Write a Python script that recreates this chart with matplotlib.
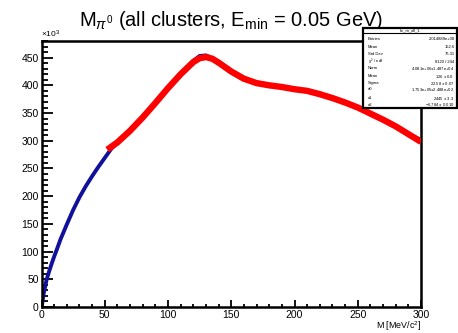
import matplotlib
matplotlib.use("Agg")
import matplotlib.pyplot as plt
from matplotlib.patches import Rectangle
from matplotlib.lines import Line2D
from matplotlib.ticker import MultipleLocator

plt.rcParams['font.family'] = ['Liberation Sans', 'DejaVu Sans']
plt.rcParams['mathtext.fontset'] = 'custom'
plt.rcParams['mathtext.rm'] = 'Liberation Sans'
plt.rcParams['mathtext.it'] = 'Liberation Sans:italic'

# histogram (blue), values in units of 1e3
hist_x = [0.5, 1.5, 3, 4, 6, 8, 10, 12, 15, 20, 25, 30, 35, 40, 45, 50, 55,
          60, 70, 80, 90, 100, 110, 120, 125, 130, 135, 140, 150, 160, 170,
          180, 190, 200, 210, 220, 230, 240, 250, 260, 270, 280, 290, 300]
hist_y = [5, 22, 38, 49, 64, 78, 91, 103, 122, 149, 175, 198, 218, 236, 253, 269, 285,
          298, 319, 343, 369, 396, 421, 444, 453, 454, 449, 440, 423, 410, 405,
          401, 397, 394, 390, 385, 377, 369, 361, 350, 339, 326, 313, 301]

# fit curve (red), values in units of 1e3
fit_x = [52, 60, 70, 80, 90, 100, 110, 120, 125, 130, 135, 140, 150, 160, 170,
         180, 190, 200, 210, 220, 230, 240, 250, 260, 270, 280, 290, 300]
fit_y = [284, 297, 318, 342, 368, 395, 420, 442, 449, 451, 448, 441, 425, 412, 404,
         400, 397, 393, 390, 384, 377, 369, 360, 349, 338, 326, 312, 298]

stats_labels = ["Entries", "Mean", "Std Dev", r"$\chi^2$ / ndf", "Norm", "Mean",
                "Sigma", "a0", "a1", "a2"]
stats_values = ["2.014889e+08", "162.6", "76.31", "8120 / 244",
                "4.081e+06$\\pm$1.487e+04", "126 $\\pm$ 0.0", "22.58 $\\pm$ 0.07",
                "1.753e+05$\\pm$2.488e+02", "2445 $\\pm$ 3.3", "$-$6.784 $\\pm$ 0.010"]
stats_rows_px = [39, 47.5, 54.3, 62, 68.3, 76.3, 83, 89.5, 98, 105]

W, H = 458, 333
fig = plt.figure(figsize=(W / 100, H / 100), dpi=100)
ax = fig.add_axes([41.5 / W, 1 - 307 / H, (421 - 41.5) / W, (307 - 41) / H])

ax.plot(hist_x, hist_y, color='#10109a', lw=2.8, zorder=2)
ax.plot(fit_x, fit_y, color='#ff0000', lw=4.6, solid_capstyle='butt', zorder=3)

ax.set_xlim(0, 300)
ax.set_ylim(0, 480)
ax.xaxis.set_major_locator(MultipleLocator(50))
ax.xaxis.set_minor_locator(MultipleLocator(10))
ax.yaxis.set_major_locator(MultipleLocator(50))
ax.yaxis.set_minor_locator(MultipleLocator(10))
ax.tick_params(which='both', direction='in', top=False, right=False, labelsize=7.5,
               width=1.3, pad=2)
ax.tick_params(axis='x', which='major', length=5)
ax.tick_params(axis='x', which='minor', length=2.5)
ax.tick_params(axis='y', which='major', length=8)
ax.tick_params(axis='y', which='minor', length=4)
for s in ax.spines.values():
    s.set_linewidth(1.8)

fig.text(421 / W, 1 - 326 / H, r"M [MeV/c$^{2}$]", ha='right', va='center', fontsize=6.4)
fig.text(41 / W, 1 - 34 / H, r"$\times$10$^{3}$", ha='left', va='center', fontsize=6)

fig.text(231 / W, 1 - 20 / H, r"M$_{\pi^{0}}$ (all clusters, E$_{\mathrm{min}}$ = 0.05 GeV)",
         ha='center', va='center', fontsize=14.5)

# stats box
bx0, by0, bx1, by1 = 362.7, 28, 456.7, 108.3
fig.patches.append(Rectangle((bx0 / W, 1 - by1 / H), (bx1 - bx0) / W, (by1 - by0) / H,
                             transform=fig.transFigure, facecolor='white',
                             edgecolor='black', lw=1.6, zorder=10))
fig.lines.append(Line2D([bx0 / W, bx1 / W], [1 - 33.3 / H, 1 - 33.3 / H],
                        transform=fig.transFigure, color='black', lw=0.8, zorder=11))
fig.text((bx0 + bx1) / 2 / W, 1 - 30.6 / H, "hc_m_all_1", ha='center', va='center',
         fontsize=3.0, zorder=12)
for lab, val, ypx in zip(stats_labels, stats_values, stats_rows_px):
    fig.text(368 / W, 1 - ypx / H, lab, ha='left', va='center', fontsize=3.0, zorder=12)
    fig.text(454.5 / W, 1 - ypx / H, val, ha='right', va='center', fontsize=3.0, zorder=12)

fig.savefig("out.png", dpi=100)
